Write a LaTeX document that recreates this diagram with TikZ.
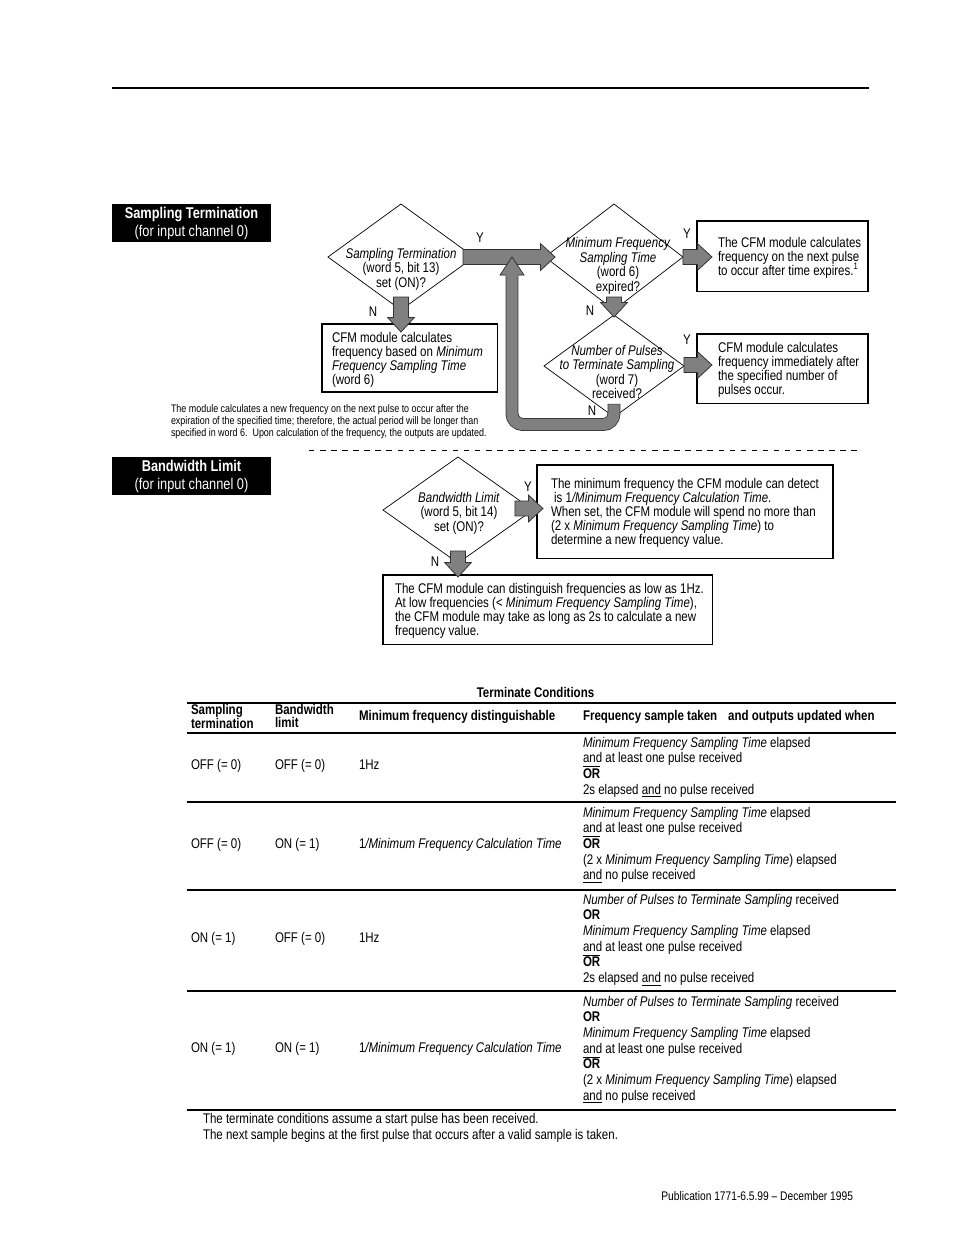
\documentclass[tikz,border=0pt]{standalone}
\usepackage{fontspec}
\setmainfont[FakeStretch=0.82]{Liberation Sans}
\usetikzlibrary{shapes.geometric,calc}
\newcommand\ORbar{\smash{$\overline{\mbox{\bfseries OR}}$}}
\newcommand\andul{\smash{\underline{and}}}
\newcommand\blockarrow[2]{%
  \coordinate (baS) at #1;
  \coordinate (baT) at #2;
  \coordinate (baB) at ($(baT)!9.3pt!(baS)$);
  \filldraw[barrow] ($(baS)!4.8pt!90:(baT)$) -- ($(baB)!4.8pt!90:(baT)$) -- ($(baB)!8.6pt!90:(baT)$) -- (baT)
     -- ($(baB)!8.6pt!-90:(baT)$) -- ($(baB)!4.8pt!-90:(baT)$) -- ($(baS)!4.8pt!-90:(baT)$) -- cycle;}
\begin{document}
\begin{tikzpicture}[x=0.6415pt,y=-0.6415pt,
  every node/.style={inner sep=0pt,outer sep=0pt},
  flow/.style={font=\fontsize{9}{9}\selectfont, align=left},
  dtext/.style={font=\fontsize{9}{9.3}\selectfont, align=center},
  tab/.style={font=\fontsize{9}{10.07}\selectfont, align=left},
  tabhead/.style={font=\fontsize{9}{8.3}\selectfont\bfseries, align=left},
  yn/.style={font=\fontsize{9}{9}\selectfont},
  cond/.style={shape=diamond, draw, line width=0.45pt},
  fbox/.style={draw, line width=0.7pt, anchor=north west},
  blackhdr/.style={fill=black, text=white, minimum width=102pt, minimum height=24.4pt, align=center, font=\fontsize{10}{11.5}\selectfont},
  barrow/.style={fill=black!50, draw=black!80, line width=0.5pt},
  rule/.style={line width=0.9pt}
]
\useasboundingbox (0,0) rectangle (954,1235);

\draw[line width=1.3pt] (112,88) -- (869,88);

\node[blackhdr] (h1) at (191.5,223) {\textbf{Sampling Termination}\\(for input channel 0)};
\node[blackhdr] (h2) at (191.5,476) {\textbf{Bandwidth Limit}\\(for input channel 0)};

% decisions
\node[cond, minimum width=93.7pt, minimum height=68pt] (d1) at (401,257) {};
\node[cond, minimum width=88.5pt, minimum height=68pt] (d2) at (614,257) {};
\node[cond, minimum width=89.8pt, minimum height=65.4pt] (d3) at (614,366) {};
\node[cond, minimum width=96.2pt, minimum height=68pt] (d4) at (458,510) {};
\node[dtext] (d1t) at ([shift={(0,12)}]d1.center) {\textit{Sampling Termination}\\(word 5, bit 13)\\set (ON)?};
\node[dtext] (d2t) at ([shift={(4,9)}]d2.center) {\textit{Minimum Frequency}\\\textit{Sampling Time}\\(word 6)\\expired?};
\node[dtext] (d3t) at ([shift={(3,6)}]d3.center) {\textit{Number of Pulses}\\\textit{to Terminate Sampling}\\(word 7)\\received?};
\node[dtext] (d4t) at ([shift={(1,3)}]d4.center) {\textit{Bandwidth Limit}\\(word 5, bit 14)\\set (ON)?};

% boxes
\node[fbox, minimum width=112.3pt, minimum height=43.6pt] (b1) at (322,324) {};
\node[fbox, minimum width=109.7pt, minimum height=45.5pt] (b2) at (697,221) {};
\node[fbox, minimum width=109.7pt, minimum height=44.3pt] (b3) at (697,334) {};
\node[fbox, minimum width=189.9pt, minimum height=59.7pt] (b4) at (537,465) {};
\node[fbox, minimum width=211.1pt, minimum height=44.3pt] (b5) at (383,575) {};
\node[flow, anchor=west] (b1t) at ([shift={(10,1.5)}]b1.west) {CFM module calculates\\frequency based on \textit{Minimum}\\\textit{Frequency Sampling Time}\\(word 6)};
\node[flow, anchor=west] (b2t) at ([shift={(21,1.5)}]b2.west) {The CFM module calculates\\frequency on the next pulse\\to occur after time expires.\smash{\textsuperscript{1}}};
\node[flow, anchor=west] (b3t) at ([shift={(21,1)}]b3.west) {CFM module calculates\\frequency immediately after\\the specified number of\\pulses occur.};
\node[flow, anchor=west] (b4t) at ([shift={(14,1)}]b4.west) {The minimum frequency the CFM module can detect\\\hspace{2pt}is 1\textit{/Minimum Frequency Calculation Time}.\\When set, the CFM module will spend no more than\\(2 x \textit{Minimum Frequency Sampling Time}) to\\determine a new frequency value.};
\node[flow, anchor=west] (b5t) at ([shift={(12,1.5)}]b5.west) {The CFM module can distinguish frequencies as low as 1Hz.\\At low frequencies (< \textit{Minimum Frequency Sampling Time}),\\the CFM module may take as long as 2s to calculate a new\\frequency value.};

% arrows
\blockarrow{([shift={(-11,0)}]d1.east)}{([shift={(10,0)}]d2.west)}
\coordinate (a2e) at (d1.south |- b1.north);
\blockarrow{([shift={(0,-13)}]d1.south)}{([shift={(0,8)}]a2e)}
\coordinate (a3e) at (b2.west |- d2.east);
\blockarrow{(d2.east)}{([shift={(15,0)}]a3e)}
\blockarrow{([shift={(0,-13)}]d2.south)}{([shift={(0,2)}]d3.north)}
\coordinate (a5e) at (b3.west |- d3.east);
\blockarrow{([shift={(0,-1)}]d3.east)}{([shift={(15,-1)}]a5e)}
\coordinate (a6e) at (b4.west |- d4.east);
\blockarrow{([shift={(-18,-1.5)}]d4.east)}{([shift={(6,-1.5)}]a6e)}
\coordinate (a7e) at (d4.south |- b5.north);
\blockarrow{([shift={(0,-12)}]d4.south)}{([shift={(0,2)}]a7e)}

% loop back
\coordinate (lpB) at (614,424.5);
\coordinate (lpA) at (512,424.5);
\coordinate (lpTip) at (512,257);
\coordinate (lpBase) at (512,275);
\draw[line width=8.3pt, black!80, rounded corners=7pt] ([shift={(0,-13)}]d3.south) -- (lpB) -- (lpA) -- (lpBase);
\draw[line width=7.3pt, black!50, rounded corners=7pt] ([shift={(0,-12.5)}]d3.south) -- (lpB) -- (lpA) -- (lpBase);
\fill[black!50] ($(lpBase)+(-12,0.3)$) -- (lpTip) -- ($(lpBase)+(12,0.3)$) -- cycle;
\draw[black!80, line width=0.5pt] ($(lpBase)+(-6.4,0)$) -- ($(lpBase)+(-12,0)$) -- (lpTip) -- ($(lpBase)+(12,0)$) -- ($(lpBase)+(6.4,0)$);

% Y/N labels
\node[yn] (y1) at (480,238) {Y};
\node[yn] (n1) at (373,312) {N};
\node[yn] (y2) at (687,234) {Y};
\node[yn] (n2) at (590,311) {N};
\node[yn] (y3) at (687,340) {Y};
\node[yn] (n3) at (592,411) {N};
\node[yn] (y4) at (528,487) {Y};
\node[yn] (n4) at (435,562) {N};

\node[font=\fontsize{7}{7.7}\selectfont, align=left, anchor=north west] (note) at (171,405) {The module calculates a new frequency on the next pulse to occur after the\\expiration of the specified time; therefore, the actual period will be longer than\\specified in word 6.\ \ Upon calculation of the frequency, the outputs are updated.};

\draw[line width=0.6pt, dash pattern=on 3.5pt off 3.6pt] (309,450) -- (862,450);

% table
\node[font=\fontsize{9}{10}\selectfont\bfseries, anchor=base] (ttl) at (535.5,697) {Terminate Conditions};
\draw[rule] (187,703) -- (896,703);
\draw[rule] (187,733) -- (896,733);
\draw[rule] (187,802) -- (896,802);
\draw[rule] (187,890) -- (896,890);
\draw[rule] (187,991) -- (896,991);
\draw[rule] (187,1110) -- (896,1110);

\node[tabhead, anchor=north west] (th1) at (191,704) {Sampling\\termination};
\node[tabhead, anchor=north west] (th2) at (275,704) {Bandwidth\\limit};
\node[tab, font=\fontsize{9}{10}\selectfont\bfseries, anchor=base west] (th3) at (359,720) {Minimum frequency distinguishable};
\node[tab, font=\fontsize{9}{10}\selectfont\bfseries, anchor=base west] (th4) at (583,720) {Frequency sample taken\hspace{7pt}and outputs updated when};

\node[tab, anchor=base west] (r1a) at (191,769) {OFF (= 0)};
\node[tab, anchor=base west] (r1b) at (275,769) {OFF (= 0)};
\node[tab, anchor=base west] (r1c) at (359,769) {1Hz};
\node[tab, anchor=north west] (r1d) at (583,737) {\textit{Minimum Frequency Sampling Time} elapsed\\and at least one pulse received\\\ORbar\\2s elapsed \andul{} no pulse received};

\node[tab, anchor=base west] (r2a) at (191,848) {OFF (= 0)};
\node[tab, anchor=base west] (r2b) at (275,848) {ON (= 1)};
\node[tab, anchor=base west] (r2c) at (359,848) {1\textit{/Minimum Frequency Calculation Time}};
\node[tab, anchor=north west] (r2d) at (583,807) {\textit{Minimum Frequency Sampling Time} elapsed\\and at least one pulse received\\\ORbar\\(2 x \textit{Minimum Frequency Sampling Time}) elapsed\\\andul{} no pulse received};

\node[tab, anchor=base west] (r3a) at (191,942) {ON (= 1)};
\node[tab, anchor=base west] (r3b) at (275,942) {OFF (= 0)};
\node[tab, anchor=base west] (r3c) at (359,942) {1Hz};
\node[tab, anchor=north west] (r3d) at (583,894) {\textit{Number of Pulses to Terminate Sampling} received\\\textbf{OR}\\\textit{Minimum Frequency Sampling Time} elapsed\\and at least one pulse received\\\ORbar\\2s elapsed \andul{} no pulse received};

\node[tab, anchor=base west] (r4a) at (191,1052) {ON (= 1)};
\node[tab, anchor=base west] (r4b) at (275,1052) {ON (= 1)};
\node[tab, anchor=base west] (r4c) at (359,1052) {1\textit{/Minimum Frequency Calculation Time}};
\node[tab, anchor=north west] (r4d) at (583,996) {\textit{Number of Pulses to Terminate Sampling} received\\\textbf{OR}\\\textit{Minimum Frequency Sampling Time} elapsed\\and at least one pulse received\\\ORbar\\(2 x \textit{Minimum Frequency Sampling Time}) elapsed\\\andul{} no pulse received};

\node[tab, anchor=base west] (fn1) at (203,1123) {The terminate conditions assume a start pulse has been received.};
\node[tab, anchor=base west] (fn2) at (203,1139) {The next sample begins at the first pulse that occurs after a valid sample is taken.};

\node[font=\fontsize{8}{9}\selectfont, anchor=base east] (pub) at (853,1200) {Publication 1771-6.5.99 -- December 1995};
\end{tikzpicture}
\end{document}
